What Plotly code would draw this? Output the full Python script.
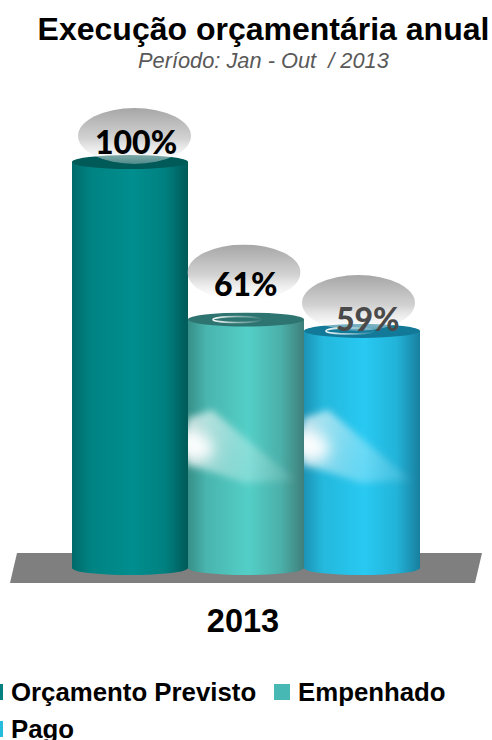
import base64
import plotly.graph_objects as go

# ---- data ----
categories = ["2013"]
series_names = ["Orçamento Previsto", "Empenhado", "Pago"]
series_values = [100, 61.2, 58.4]
value_labels = ["100%", "61%", "59%"]
legend_colors = ["#00807f", "#47b8b3", "#26bcde"]
title_text = "Execução orçamentária anual"
subtitle_text = "Período: Jan - Out\u00a0\u00a0/ 2013"

# ---- layout constants ----
W, H = 492, 740
PLOT_BOTTOM = 590
BASE_PX, TOP_PX = 568, 162
PX = (BASE_PX - TOP_PX) / 100.0
GROUP_W = 348 / W
BAR_W = GROUP_W / 3
CAP_RY = 7.0

STYLES = [
    dict(edge_l="#006a6a", l="#008282", c="#008e8e", r="#008080", edge_r="#005a58", cap="#005a58", flare=False, sw=0),
    dict(edge_l="#368f88", l="#49b5ae", c="#53cfc7", r="#4bb0a9", edge_r="#3f7f7a", cap="#2e7571", flare=True, sw=49),
    dict(edge_l="#1b93b5", l="#24b8dc", c="#28c9f2", r="#22b3d8", edge_r="#187f9e", cap="#127a98", flare=True, sw=46),
]
BUBBLES = [(134.5, 136), (244, 272.5), (358.5, 303)]
BUB_RX, BUB_RY = 56.5, 28
LABEL_POS = [(136, 141), (246, 283), (368, 318)]
LABEL_COLORS = ["#000000", "#000000", "#4a4a4a"]


def uri(svg):
    return "data:image/svg+xml;base64," + base64.b64encode(svg.encode()).decode()


def cylinder_svg(value, s):
    w = 116.0
    h = value * PX + 2 * CAP_RY
    rx = w / 2
    bot = h - CAP_RY
    flare = ""
    swirl = ""
    if s["flare"]:
        top_px = BASE_PX - value * PX - CAP_RY
        y0 = 410 - top_px
        y1 = 482 - top_px
        ym = 444 - top_px
        flare = (
            f'<path d="M0 {y0+8} L24 {y0} L{w*0.92} {y1-2} L{w*0.5} {y1+1} L0 {ym+20} Z" '
            f'fill="url(#fl)" filter="url(#b3)"/>'
            f'<ellipse cx="-2" cy="{ym}" rx="28" ry="16" fill="#ffffff" opacity="0.95" filter="url(#b6)" '
            f'transform="rotate(18 0 {ym})"/>'
        )
        cx = s["sw"]
        swirl = (
            f'<ellipse cx="{cx}" cy="{CAP_RY}" rx="24" ry="3" fill="none" stroke="url(#sg)" stroke-width="1.6" '
            f'filter="url(#b1)"/>'
        )
    return f'''<svg xmlns="http://www.w3.org/2000/svg" width="{w}" height="{h}" viewBox="0 0 {w} {h}" preserveAspectRatio="none">
<defs>
<linearGradient id="g" x1="0" x2="1" y1="0" y2="0">
<stop offset="0" stop-color="{s['edge_l']}"/><stop offset="0.16" stop-color="{s['l']}"/>
<stop offset="0.52" stop-color="{s['c']}"/><stop offset="0.8" stop-color="{s['r']}"/>
<stop offset="1" stop-color="{s['edge_r']}"/></linearGradient>
<linearGradient id="fl" x1="0" x2="1" y1="0.35" y2="0.6">
<stop offset="0" stop-color="#fff" stop-opacity="0.65"/><stop offset="0.45" stop-color="#fff" stop-opacity="0.36"/>
<stop offset="1" stop-color="#fff" stop-opacity="0.12"/></linearGradient>
<linearGradient id="sg" x1="0" x2="1" y1="0" y2="0">
<stop offset="0" stop-color="#fff" stop-opacity="0.95"/><stop offset="0.5" stop-color="#fff" stop-opacity="0.5"/>
<stop offset="1" stop-color="#fff" stop-opacity="0.05"/></linearGradient>
<filter id="b1"><feGaussianBlur stdDeviation="0.6"/></filter>
<filter id="b3" x="-20%" y="-20%" width="140%" height="140%"><feGaussianBlur stdDeviation="3.5"/></filter>
<filter id="b6" x="-80%" y="-80%" width="260%" height="260%"><feGaussianBlur stdDeviation="7"/></filter>
<clipPath id="c"><path d="M0 {CAP_RY} H{w} V{bot} A{rx} {CAP_RY} 0 0 1 0 {bot} Z"/></clipPath>
</defs>
<path d="M0 {CAP_RY} H{w} V{bot} A{rx} {CAP_RY} 0 0 1 0 {bot} Z" fill="url(#g)"/>
<g clip-path="url(#c)">{flare}</g>
<ellipse cx="{rx}" cy="{CAP_RY}" rx="{rx}" ry="{CAP_RY}" fill="{s['cap']}"/>
{swirl}
</svg>'''


def bubble_svg():
    w, h = 2 * BUB_RX, 2 * BUB_RY
    return f'''<svg xmlns="http://www.w3.org/2000/svg" width="{w}" height="{h}" viewBox="0 0 {w} {h}" preserveAspectRatio="none">
<defs><linearGradient id="b" x1="0" x2="0" y1="0" y2="1">
<stop offset="0" stop-color="#a6a6a6"/><stop offset="0.55" stop-color="#d0d0d0" stop-opacity="0.95"/>
<stop offset="1" stop-color="#ffffff" stop-opacity="0.3"/></linearGradient></defs>
<ellipse cx="{BUB_RX}" cy="{BUB_RY}" rx="{BUB_RX}" ry="{BUB_RY}" fill="url(#b)"/></svg>'''


def x_data(px):
    return (px - W / 2) / W


def y_data(py):
    return (BASE_PX - py) / PX


fig = go.Figure()
for name, val, col in zip(series_names, series_values, legend_colors):
    fig.add_trace(go.Bar(x=categories, y=[val], name=name, marker=dict(color=col, line_width=0),
                         showlegend=False, hoverinfo="skip"))

images = []
for i, (val, st) in enumerate(zip(series_values, STYLES)):
    left = -GROUP_W / 2 + i * BAR_W
    images.append(dict(source=uri(cylinder_svg(val, st)), xref="x", yref="y", x=left,
                       y=val + CAP_RY / PX, sizex=BAR_W, sizey=val + 2 * CAP_RY / PX,
                       xanchor="left", yanchor="top", sizing="stretch", layer="above"))
for cx, cy in BUBBLES:
    images.append(dict(source=uri(bubble_svg()), xref="x", yref="y", x=x_data(cx - BUB_RX),
                       y=y_data(cy - BUB_RY), sizex=2 * BUB_RX / W, sizey=2 * BUB_RY / PX,
                       xanchor="left", yanchor="top", sizing="stretch", layer="above"))

shapes = [dict(type="path", xref="paper", yref="paper", layer="below", line_width=0, fillcolor="#7f7f7f",
               path=f"M {17/W} {1-553/PLOT_BOTTOM} L {482/W} {1-553/PLOT_BOTTOM} "
                    f"L {475/W} {1-583/PLOT_BOTTOM} L {10/W} {1-583/PLOT_BOTTOM} Z")]

annotations = []
for (lx, ly), text, col in zip(LABEL_POS, value_labels, LABEL_COLORS):
    annotations.append(dict(text=text, xref="x", yref="y", x=x_data(lx), y=y_data(ly),
                            showarrow=False, font=dict(family="Lato", size=32, color=col, weight=900),
                            xanchor="center", yanchor="middle"))
annotations.append(dict(text=f"<i>{subtitle_text}</i>", xref="paper", yref="paper", x=263.5 / W,
                        y=1 - 60.5 / PLOT_BOTTOM, showarrow=False, xanchor="center", yanchor="middle",
                        font=dict(family="Liberation Sans", size=21.8, color="#595959")))

legend_pos = [(-13, 692, 11), (274, 692, 298), (-13, 729, 11)]
for (sx, ly, tx), name, col in zip(legend_pos, series_names, legend_colors):
    shapes.append(dict(type="rect", xref="paper", yref="paper", line_width=0, fillcolor=col,
                       x0=sx / W, x1=(sx + 16) / W,
                       y0=1 - (ly - 8) / PLOT_BOTTOM, y1=1 - (ly + 8) / PLOT_BOTTOM))
    annotations.append(dict(text=f"<b>{name}</b>", xref="paper", yref="paper", x=tx / W,
                            y=1 - ly / PLOT_BOTTOM, showarrow=False, xanchor="left", yanchor="middle",
                            xshift=-2, font=dict(family="Liberation Sans", size=25.8, color="#000000")))

fig.update_layout(
    width=W, height=H,
    margin=dict(l=0, r=0, t=0, b=H - PLOT_BOTTOM, pad=0),
    barmode="group", bargap=1 - GROUP_W, bargroupgap=0,
    paper_bgcolor="#ffffff", plot_bgcolor="rgba(0,0,0,0)",
    title=dict(text=f"<b>{title_text}</b>", x=263.5 / W, xanchor="center", y=1 - 29 / H, yanchor="middle",
               font=dict(family="Liberation Sans", size=32, color="#000000")),
    xaxis=dict(type="category", range=[-0.5, 0.5], showgrid=False, zeroline=False, showline=False,
               ticks="outside", ticklen=2, tickcolor="rgba(0,0,0,0)", ticklabelshift=-3,
               tickfont=dict(family="Liberation Sans", size=32.5, color="#000000", weight="bold")),
    yaxis=dict(range=[(BASE_PX - PLOT_BOTTOM) / PX, BASE_PX / PX], visible=False),
    images=images, shapes=shapes, annotations=annotations,
    showlegend=False,
)

fig.write_html("out.html", config=dict(displayModeBar=False),
               post_script="document.body.style.margin='0';document.body.style.overflow='hidden';")
